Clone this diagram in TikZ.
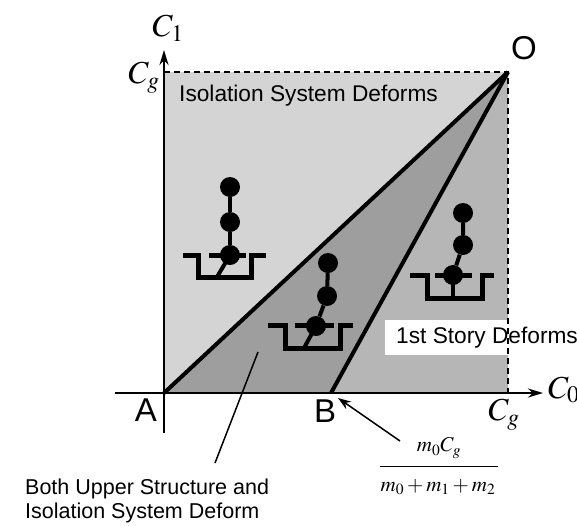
\documentclass[tikz,border=0pt]{standalone}
\usepackage{mathptmx}
\usepackage[no-math]{fontspec}
\setmainfont{Liberation Sans}
\usetikzlibrary{arrows.meta}
\definecolor{zoneiso}{RGB}{212,212,212}
\definecolor{zoneboth}{RGB}{158,158,158}
\definecolor{zonestory}{RGB}{182,182,182}
\begin{document}
\begin{tikzpicture}[x=1pt,y=-1pt,
  txt/.style={font=\fontsize{22.7}{25}\selectfont, inner sep=0pt},
  note/.style={font=\fontsize{21.5}{23.5}\selectfont, inner sep=0pt},
  pt/.style={font=\fontsize{33}{35}\selectfont, inner sep=0pt},
  sym/.style={font=\fontsize{32}{34}\selectfont, inner sep=0pt},
  frc/.style={font=\fontsize{21}{23}\selectfont, inner sep=0pt},
  axis/.style={line width=2.4pt, -{Stealth[length=15pt,width=9pt]}},
  bound/.style={line width=4pt},
  limit/.style={line width=1.8pt, dash pattern=on 6pt off 4pt},
  mass/.style={circle, fill=black, minimum size=20pt, inner sep=0pt},
  member/.style={line width=4pt},
  basin/.style={line width=5pt, miter limit=10}]
\useasboundingbox (0,0) rectangle (577,525);

% key points of the C0-C1 plane
\coordinate (A) at (164,393);
\coordinate (B) at (331,393);
\coordinate (O) at (508,72);
\coordinate (TL) at (164,72);
\coordinate (BR) at (508,393);

% deformation zones
\fill[zoneiso] (A) -- (TL) -- (O) -- cycle;
\fill[zoneboth] (A) -- (O) -- (B) -- cycle;
\fill[zonestory] (B) -- (O) -- (BR) -- cycle;

% label box for the first-story zone
\fill[white] (385,320) rectangle (577,355);

% limits C_g
\draw[limit] (TL) -- (O) -- (BR);

% axes
\draw[axis] (164,433) -- (164,50);
\draw[axis] (115,393) -- (543,393);

% zone boundaries
\draw[bound] (A) -- (O);
\draw[bound] (B) -- (O);

% axis labels
\node[sym] (c1) at (168,28) {$C_1$};
\node[sym] (cgy) at (144,78) {$C_g$};
\node[sym] (cgx) at (504,415) {$C_g$};
\node[sym, anchor=west] (c0) at (548,390) {$C_0$};

% point labels
\node[pt] (la) at (146,410) {A};
\node[pt] (lb) at (325,411) {B};
\node[pt] (lo) at (524,48) {O};

% zone labels
\node[txt, anchor=base west] (isoz) at (179,101) {Isolation System Deforms};
\node[txt, anchor=base west] (storyz) at (396,343) {1st Story Deforms};
\node[note, anchor=north west, align=left] (bothz) at (25,479)
  {Both Upper Structure and\\Isolation System Deform};

% pointer into the middle zone
\coordinate (p1) at (215,463);
\coordinate (p2) at (258,352);
\draw[line width=1.5pt] (p1) -- (p2);

% value of point B
\node[frc] (num) at (439,448) {$m_0C_g$};
\node[frc] (den) at (438,487) {$m_0+m_1+m_2$};
\coordinate (barl) at (380,466);
\coordinate (barr) at (498,466);
\draw[line width=1pt] (barl) -- (barr);
\coordinate (q1) at (400,441);
\coordinate (q2) at (338,398);
\draw[line width=1.5pt, -{Stealth[length=13pt,width=9pt]}] (q1) -- (q2);

% model 1: isolation system deforms
\node[mass] (m1t) at (230,187) {};
\node[mass] (m1m) at (230,222) {};
\node[mass] (m1b) at (230,255) {};
\draw[member] (m1t) -- (m1m) -- (m1b);
\draw[basin] (183,255) -- (198,255) -- (198,277) -- (251,277) -- (251,255) -- (266,255);
\draw[basin] (209,255) -- (246,255);
\coordinate (f1) at (217,277);
\draw[member] (m1b.center) -- (f1);

% model 2: both upper structure and isolation system deform
\node[mass] (m2t) at (328,263) {};
\node[mass] (m2m) at (327,296) {};
\node[mass] (m2b) at (316,326) {};
\draw[member] (m2t) -- (m2m) -- (m2b);
\draw[basin] (268,325) -- (285,325) -- (285,348) -- (340,348) -- (340,325) -- (353,325);
\draw[basin] (295,325) -- (334,325);
\coordinate (f2) at (304,348);
\draw[member] (m2b.center) -- (f2);

% model 3: first story deforms
\node[mass] (m3t) at (463,213) {};
\node[mass] (m3m) at (463,245) {};
\node[mass] (m3b) at (453,275) {};
\draw[member] (m3t) -- (m3m) -- (m3b);
\draw[basin] (410,275) -- (427,275) -- (427,298) -- (482,298) -- (482,275) -- (494,275);
\draw[basin] (435,275) -- (472,275);
\coordinate (f3) at (453,298);
\draw[member] (m3b.center) -- (f3);
\end{tikzpicture}
\end{document}
